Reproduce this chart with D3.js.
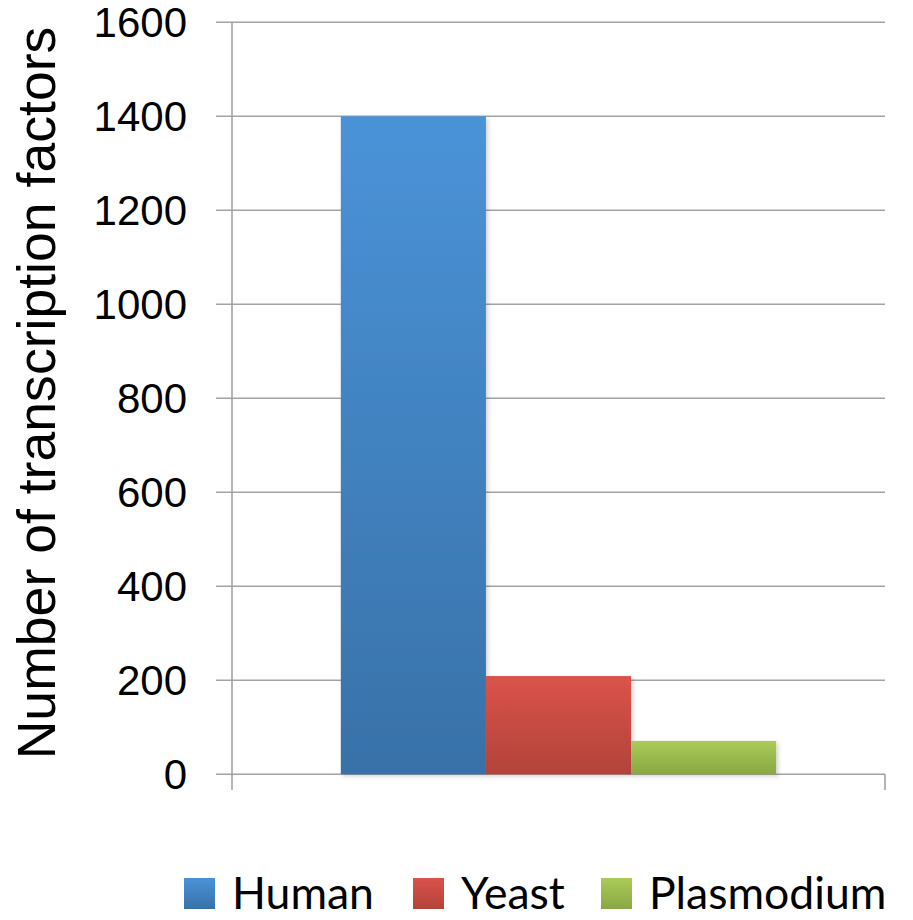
<!DOCTYPE html>
<html><head><meta charset="utf-8">
<script src="https://cdn.jsdelivr.net/npm/d3@7"></script>
<style>body{margin:0;background:#fff;}svg{display:block;}</style>
</head><body>
<script>
const categories = ["Human", "Yeast", "Plasmodium"];
const values = [1400, 209, 71];
const yTicks = [0, 200, 400, 600, 800, 1000, 1200, 1400, 1600];
const colorsTop = ["#4a93d8", "#da534a", "#abcb58"];
const colorsBottom = ["#3871a8", "#b2433a", "#8aa744"];
const yTitle = "Number of transcription factors";

(function () {
const W = 913, H = 920;
const svg = d3.select("body").append("svg").attr("width", W).attr("height", H);
const defs = svg.append("defs");
categories.forEach((c, i) => {
  const g = defs.append("linearGradient").attr("id", "g" + i)
    .attr("x1", 0).attr("y1", 0).attr("x2", 0).attr("y2", 1);
  g.append("stop").attr("offset", "0%").attr("stop-color", colorsTop[i]);
  g.append("stop").attr("offset", "100%").attr("stop-color", colorsBottom[i]);
});
const f = defs.append("filter").attr("id", "sh").attr("x", "-10%").attr("y", "-10%").attr("width", "130%").attr("height", "130%");
f.append("feDropShadow").attr("dx", 2).attr("dy", 2).attr("stdDeviation", 2).attr("flood-color", "#000").attr("flood-opacity", 0.18);

const pLeft = 232, pRight = 885, pTop = 22.3, pBottom = 774.3;
const y = d3.scaleLinear().domain([0, 1600]).range([pBottom, pTop]);
const x = d3.scaleBand().domain(categories).range([pLeft + 0.75 * 145.1, pRight - 0.75 * 145.1]).padding(0);

svg.append("g").selectAll("line").data(yTicks).join("line")
  .attr("x1", 216).attr("x2", pRight)
  .attr("y1", d => y(d)).attr("y2", d => y(d))
  .attr("stroke", "#a3a3a3").attr("stroke-width", 1.6);

svg.append("line").attr("x1", pLeft).attr("x2", pLeft).attr("y1", pTop).attr("y2", pBottom)
  .attr("stroke", "#a3a3a3").attr("stroke-width", 1.6);
svg.append("g").selectAll("line").data([pLeft, pRight]).join("line")
  .attr("x1", d => d).attr("x2", d => d).attr("y1", pBottom).attr("y2", 790)
  .attr("stroke", "#a3a3a3").attr("stroke-width", 1.6);

svg.append("g").selectAll("rect").data(values).join("rect")
  .attr("x", (d, i) => x(categories[i]))
  .attr("width", x.bandwidth())
  .attr("y", d => y(d))
  .attr("height", d => y(0) - y(d))
  .attr("fill", (d, i) => `url(#g${i})`)
  .attr("filter", "url(#sh)");

svg.append("g").selectAll("text").data(yTicks).join("text")
  .attr("x", 187).attr("y", d => y(d))
  .attr("dy", "0.36em")
  .attr("text-anchor", "end")
  .attr("font-family", "Liberation Sans, Arial, sans-serif")
  .attr("font-size", 42)
  .attr("fill", "#000")
  .text(d => d);

svg.append("text")
  .attr("transform", "translate(55,393) rotate(-90)")
  .attr("text-anchor", "middle")
  .attr("font-family", "Liberation Sans, Arial, sans-serif")
  .attr("font-size", 53.6)
  .attr("fill", "#000")
  .text(yTitle);

const legX = [184, 413, 601];
const lg = svg.append("g").selectAll("g").data(categories).join("g")
  .attr("transform", (d, i) => `translate(${legX[i]},0)`);
lg.append("rect").attr("x", 0).attr("y", 878).attr("width", 31).attr("height", 31)
  .attr("fill", (d, i) => `url(#g${i})`);
lg.append("text").attr("x", 48).attr("y", 909)
  .attr("font-family", "Lato, Liberation Sans, sans-serif")
  .attr("font-size", 44.5)
  .attr("fill", "#000")
  .text(d => d);
})();
</script>
</body></html>
